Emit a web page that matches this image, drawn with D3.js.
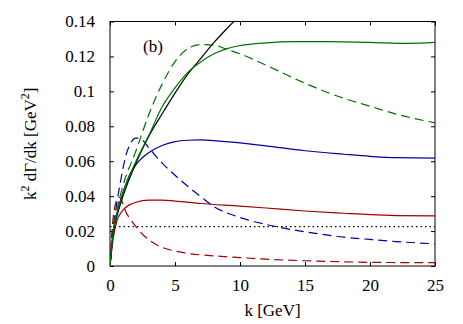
<!DOCTYPE html>
<html lang="en">
<head>
  <meta charset="UTF-8">
  <title>k^2 dGamma/dk</title>
  <script src="https://d3js.org/d3.v7.min.js"></script>
  <style>
    body { margin: 0; background: #fff; }
    svg text { font-family: "Liberation Serif", "Times New Roman", Times, "DejaVu Serif", serif; fill: #000; }
    .curve { fill: none; stroke-width: 1.2px; }
  </style>
</head>
<body>
  <div id="chart"></div>
  <script>
    // tick values
    const xTicks = [0, 5, 10, 15, 20, 25];
    const yTicks = [0, 0.02, 0.04, 0.06, 0.08, 0.1, 0.12, 0.14];

    // curves: k [GeV] and k^2 dGamma/dk values
    const blackK = [0, 0.25, 0.5, 1, 2, 3, 4, 5, 6, 7, 8, 9, 10, 10.5];
    const blackV = [0, 0.019, 0.0275, 0.040, 0.059, 0.0745, 0.087, 0.099, 0.110, 0.119, 0.128, 0.136, 0.1435, 0.147];

    const greenSolidK = [0, 0.25, 0.5, 1, 2, 3, 4, 5, 6, 7, 8, 9, 10, 12, 14, 17, 20, 23, 25];
    const greenSolidV = [0, 0.020, 0.029, 0.042, 0.060, 0.075, 0.091, 0.102, 0.111, 0.117, 0.1215, 0.1245, 0.1262, 0.1278, 0.1285, 0.1285, 0.128, 0.1275, 0.128];

    const greenDashK = [0, 0.25, 0.5, 1, 2, 3, 4, 5, 6, 7, 8, 9, 10, 12, 14, 16, 18, 20, 22, 25];
    const greenDashV = [0, 0.021, 0.031, 0.046, 0.066, 0.087, 0.104, 0.117, 0.1245, 0.1268, 0.1265, 0.124, 0.1215, 0.115, 0.108, 0.1015, 0.096, 0.0915, 0.087, 0.082];

    const blueSolidK = [0, 0.25, 0.5, 1, 1.5, 2, 3, 4, 5, 6, 7, 8, 10, 12, 15, 18, 20, 22, 25];
    const blueSolidV = [0, 0.020, 0.029, 0.042, 0.052, 0.058, 0.065, 0.069, 0.0712, 0.072, 0.0722, 0.0718, 0.0705, 0.0688, 0.066, 0.064, 0.0628, 0.062, 0.0618];

    const blueDashK = [0, 0.25, 0.5, 0.75, 1, 1.25, 1.5, 2, 2.5, 3, 4, 5, 6, 7, 8, 10, 12, 14, 16, 18, 20, 22, 25];
    const blueDashV = [0, 0.022, 0.035, 0.046, 0.056, 0.064, 0.069, 0.0732, 0.072, 0.0675, 0.059, 0.052, 0.0455, 0.0396, 0.034, 0.0278, 0.0238, 0.0208, 0.0185, 0.0165, 0.0152, 0.014, 0.0127];

    const redSolidK = [0, 0.25, 0.5, 1, 1.5, 2, 3, 4, 5, 7, 10, 12, 15, 18, 20, 22, 25];
    const redSolidV = [0, 0.016, 0.025, 0.032, 0.035, 0.0365, 0.0377, 0.0377, 0.0372, 0.0358, 0.0343, 0.0332, 0.0315, 0.0302, 0.0294, 0.0289, 0.0287];

    const redDashK = [0, 0.15, 0.3, 0.5, 0.65, 0.8, 1, 1.25, 1.5, 2, 2.5, 3, 4, 5, 6, 8, 10, 12, 15, 18, 20, 25];
    const redDashV = [0, 0.020, 0.031, 0.0375, 0.0395, 0.039, 0.0355, 0.0305, 0.0275, 0.0225, 0.0182, 0.015, 0.0107, 0.0086, 0.0072, 0.0058, 0.0048, 0.0039, 0.003, 0.0024, 0.0021, 0.0019];

    const dottedK = [0, 25];
    const dottedV = [0.0225, 0.0225];

    const width = 463;
    const height = 324;
    const margin = { top: 21.5, right: 28, bottom: 58, left: 110 };
    const serif = '"Liberation Serif", "Times New Roman", Times, serif';

    const svg = d3.select("#chart")
      .append("svg")
      .attr("width", width)
      .attr("height", height)
      .attr("font-family", serif);

    const x = d3.scaleLinear().domain([0, 25]).range([margin.left, width - margin.right]);
    const y = d3.scaleLinear().domain([0, 0.14]).range([height - margin.bottom, margin.top]);

    svg.append("clipPath").attr("id", "clip")
      .append("rect")
      .attr("x", x(0)).attr("y", y(0.14))
      .attr("width", x(25) - x(0)).attr("height", y(0) - y(0.14));

    // axes, ticks inward on all four sides
    const fmt = d => d === 0 ? "0" : String(+d.toFixed(2));
    const tidy = g => {
      g.attr("font-family", serif).attr("font-size", 17);
      g.select(".domain").remove();
    };
    svg.append("g")
      .attr("transform", `translate(0,${y(0)})`)
      .call(d3.axisBottom(x).tickValues(xTicks).tickSize(-4).tickPadding(13).tickFormat(d => d))
      .call(tidy);
    svg.append("g")
      .attr("transform", `translate(0,${y(0.14)})`)
      .call(d3.axisTop(x).tickValues(xTicks).tickSize(-4).tickFormat(""))
      .call(tidy);
    svg.append("g")
      .attr("transform", `translate(${x(0)},0)`)
      .call(d3.axisLeft(y).tickValues(yTicks).tickSize(-4).tickPadding(15).tickFormat(fmt))
      .call(tidy);
    svg.append("g")
      .attr("transform", `translate(${x(25)},0)`)
      .call(d3.axisRight(y).tickValues(yTicks).tickSize(-4).tickFormat(""))
      .call(tidy);

    svg.append("rect")
      .attr("x", x(0)).attr("y", y(0.14))
      .attr("width", x(25) - x(0)).attr("height", y(0) - y(0.14))
      .attr("fill", "none").attr("stroke", "#000").attr("stroke-width", 1);

    const line = d3.line()
      .x(d => x(d[0]))
      .y(d => y(d[1]))
      .curve(d3.curveMonotoneX);

    const series = [
      { k: dottedK, v: dottedV, color: "#000", dash: "1.5,3" },
      { k: redDashK, v: redDashV, color: "#a00000", dash: "9,5" },
      { k: redSolidK, v: redSolidV, color: "#a00000", dash: null },
      { k: blueDashK, v: blueDashV, color: "#0000a0", dash: "9,5" },
      { k: blueSolidK, v: blueSolidV, color: "#0000a0", dash: null },
      { k: greenDashK, v: greenDashV, color: "#007000", dash: "9,5" },
      { k: blackK, v: blackV, color: "#000", dash: null },
      { k: greenSolidK, v: greenSolidV, color: "#007000", dash: null }
    ];

    const plot = svg.append("g").attr("clip-path", "url(#clip)");
    series.forEach(s => {
      plot.append("path")
        .datum(d3.zip(s.k, s.v))
        .attr("class", "curve")
        .attr("stroke", s.color)
        .attr("stroke-dasharray", s.dash)
        .attr("d", line);
    });

    // panel label
    svg.append("text")
      .attr("x", 143).attr("y", 52)
      .attr("font-size", 17)
      .text("(b)");

    // axis titles
    svg.append("text")
      .attr("x", (x(0) + x(25)) / 2).attr("y", 316)
      .attr("text-anchor", "middle")
      .attr("font-size", 17)
      .text("k [GeV]");

    const yl = svg.append("text")
      .attr("transform", `translate(36,${(y(0) + y(0.14)) / 2}) rotate(-90)`)
      .attr("text-anchor", "middle")
      .attr("font-size", 17);
    yl.append("tspan").text("k");
    yl.append("tspan").attr("dy", -7).attr("font-size", 12).text("2");
    yl.append("tspan").attr("dy", 7).text(" dΓ/dk [GeV");
    yl.append("tspan").attr("dy", -7).attr("font-size", 12).text("2");
    yl.append("tspan").attr("dy", 7).text("]");
  </script>
</body>
</html>
